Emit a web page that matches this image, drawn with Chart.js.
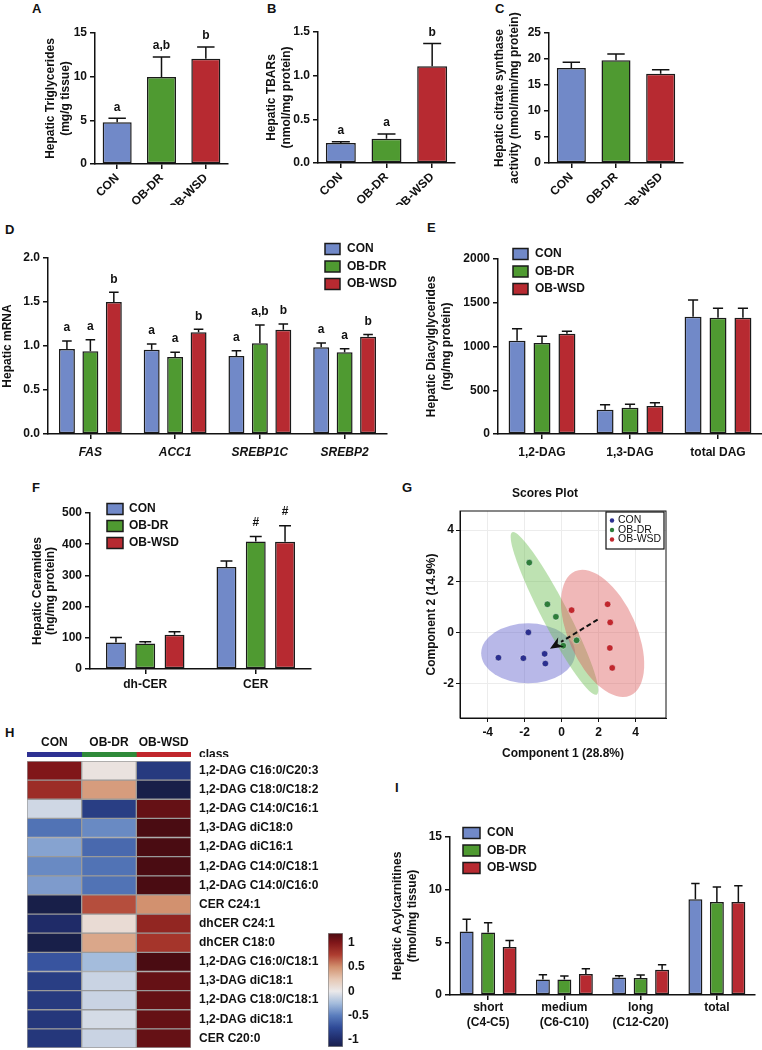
<!DOCTYPE html>
<html>
<head>
<meta charset="utf-8">
<title>Hepatic lipid profile</title>
<script src="https://cdn.jsdelivr.net/npm/chart.js"></script>
<style>
  html, body { margin:0; padding:0; background:#fff; }
  body { position:relative; width:762px; height:1050px; overflow:hidden; }
  canvas { position:absolute; }
  .lbl { position:absolute; font:bold 13px/13px "Liberation Sans", Arial, sans-serif; color:#111; }
</style>
</head>
<body>
<div class="lbl" style="left:32px;top:2px">A</div>
<div class="lbl" style="left:267px;top:2px">B</div>
<div class="lbl" style="left:495px;top:2px">C</div>
<div class="lbl" style="left:5px;top:223px">D</div>
<div class="lbl" style="left:427px;top:221px">E</div>
<div class="lbl" style="left:32px;top:481px">F</div>
<div class="lbl" style="left:402px;top:481px">G</div>
<div class="lbl" style="left:5px;top:726px">H</div>
<div class="lbl" style="left:395px;top:781px">I</div>
<script>
// groupes
const groups = ['CON', 'OB-DR', 'OB-WSD'];
const groupColors = ['#7189c8', '#4f9a31', '#b72a31'];

// A - triglycérides
const tgMean = [4.78, 9.95, 12.05];
const tgSem = [0.46, 2.30, 1.35];
const tgLetters = ['a', 'a,b', 'b'];

// B - TBARs
const tbarsMean = [0.228, 0.277, 1.107];
const tbarsSem = [0.015, 0.055, 0.26];
const tbarsLetters = ['a', 'a', 'b'];

// C - citrate synthase
const csMean = [18.27, 19.74, 17.18];
const csSem = [1.09, 1.22, 0.77];

// D - mRNA
const genes = ['FAS', 'ACC1', 'SREBP1C', 'SREBP2'];
const mrnaCon = [0.966, 0.958, 0.886, 0.985];
const mrnaDr = [0.94, 0.875, 1.03, 0.93];
const mrnaWsd = [1.50, 1.155, 1.186, 1.106];
const mrnaSemCon = [0.09, 0.064, 0.061, 0.049];
const mrnaSemDr = [0.13, 0.055, 0.21, 0.04];
const mrnaSemWsd = [0.11, 0.035, 0.064, 0.026];
const mrnaLetCon = ['a', 'a', 'a', 'a'];
const mrnaLetDr = ['a', 'a', 'a,b', 'a'];
const mrnaLetWsd = ['b', 'b', 'b', 'b'];

// E - DAG
const dagCats = ['1,2-DAG', '1,3-DAG', 'total DAG'];
const dagCon = [1067, 278, 1341];
const dagDr = [1040, 301, 1330];
const dagWsd = [1147, 320, 1330];
const dagSemCon = [137, 57, 190];
const dagSemDr = [76, 38, 106];
const dagSemWsd = [26, 38, 106];

// F - céramides
const cerCats = ['dh-CER', 'CER'];
const cerCon = [85, 327];
const cerDr = [82, 409];
const cerWsd = [110, 408];
const cerSemCon = [16, 19];
const cerSemDr = [5, 16];
const cerSemWsd = [9, 51];
const cerMarkDr = ['', '#'];
const cerMarkWsd = ['', '#'];

// G - scores plot
const conScores = [[-1.8, 0], [-3.42, -0.99], [-2.07, -1.01], [-0.92, -0.84], [-0.88, -1.22]];
const drScores = [[-1.75, 2.73], [-0.77, 1.10], [-0.31, 0.61], [0.81, -0.31], [0.09, -0.52]];
const wsdScores = [[0.54, 0.87], [2.49, 1.10], [2.63, 0.39], [2.61, -0.61], [2.74, -1.39]];
const ellipseCenters = [[-1.81, -0.82], [-0.39, 0.74], [2.22, -0.04]];
const arrowFrom = [1.95, 0.50];
const arrowTo = [-0.63, -0.64];
const scoreXTicks = [-4, -2, 0, 2, 4];
const scoreYTicks = [-2, 0, 2, 4];

// H - heatmap
const lipidNames = ['1,2-DAG C16:0/C20:3', '1,2-DAG C18:0/C18:2', '1,2-DAG C14:0/C16:1', '1,3-DAG diC18:0',
  '1,2-DAG diC16:1', '1,2-DAG C14:0/C18:1', '1,2-DAG C14:0/C16:0', 'CER C24:1', 'dhCER C24:1', 'dhCER C18:0',
  '1,2-DAG C16:0/C18:1', '1,3-DAG diC18:1', '1,2-DAG C18:0/C18:1', '1,2-DAG diC18:1', 'CER C20:0'];
const heatCon = [1.0, 0.85, -0.1, -0.55, -0.35, -0.45, -0.38, -1.15, -1.0, -1.15, -0.7, -0.85, -0.88, -0.9, -0.9];
const heatDr = [0.05, 0.45, -0.85, -0.45, -0.6, -0.55, -0.55, 0.7, 0.1, 0.4, -0.25, -0.12, -0.12, -0.08, -0.12];
const heatWsd = [-0.88, -1.15, 1.1, 1.2, 1.2, 1.2, 1.2, 0.5, 0.9, 0.8, 1.2, 1.1, 1.1, 1.1, 1.1];
const cbarTicks = [1, 0.5, 0, -0.5, -1];
const cbarMin = -1.15, cbarMax = 1.2;

// I - acylcarnitines
const acCats = [['short', '(C4-C5)'], ['medium', '(C6-C10)'], ['long', '(C12-C20)'], 'total'];
const acCon = [6.03, 1.48, 1.67, 9.09];
const acDr = [5.94, 1.48, 1.61, 8.84];
const acWsd = [4.55, 1.99, 2.40, 8.84];
const acSemCon = [1.17, 0.45, 0.16, 1.49];
const acSemDr = [0.91, 0.32, 0.29, 1.42];
const acSemWsd = [0.63, 0.51, 0.47, 1.52];

// styles
const FONT = '"Liberation Sans", Arial, Helvetica, sans-serif';
const heatStops = [[-1.2, '#151b3f'], [-1.0, '#1f2b68'], [-0.75, '#2f4a97'], [-0.5, '#5a7dbd'], [-0.25, '#a4bcdc'],
  [0, '#ebe9ea'], [0.25, '#e6c7b3'], [0.5, '#d2916f'], [0.75, '#ae3d30'], [1.0, '#801619'], [1.2, '#4a0c12']];
const classColors = ['#2e3192', '#2f8a3a', '#c1272d'];
const scoreColors = ['#2b2f8f', '#2e7d3a', '#c1272d'];
const ellipseFill = ['rgba(85,85,200,0.42)', 'rgba(110,190,85,0.45)', 'rgba(220,85,85,0.42)'];
const ellipseShape = [[47, 30, 0], [13, 91.5, -27.5], [34, 68, -24]]; // rx, ry (px), rotation (deg)

Chart.defaults.font.family = FONT;
Chart.defaults.font.size = 12;
Chart.defaults.font.weight = 'bold';
Chart.defaults.color = '#111';
Chart.defaults.animation = false;
Chart.defaults.responsive = false;
Chart.defaults.plugins.legend.display = false;
Chart.defaults.plugins.tooltip.enabled = false;

function canvasAt(left, top, w, h) {
  const c = document.createElement('canvas');
  c.width = w; c.height = h;
  c.style.left = left + 'px'; c.style.top = top + 'px';
  c.style.width = w + 'px'; c.style.height = h + 'px';
  document.body.appendChild(c);
  return c;
}

// barres d'erreur + lettres
const errBars = {
  id: 'errBars',
  afterDatasetsDraw(chart, args, o) {
    const ctx = chart.ctx, y = chart.scales.y;
    chart.data.datasets.forEach((ds, di) => {
      if (!ds.err) return;
      chart.getDatasetMeta(di).data.forEach((bar, i) => {
        const top = y.getPixelForValue(ds.data[i] + ds.err[i]);
        const hw = bar.width * 0.3;
        ctx.save();
        ctx.strokeStyle = '#111'; ctx.lineWidth = 1.5;
        ctx.beginPath();
        ctx.moveTo(bar.x, bar.y); ctx.lineTo(bar.x, top);
        ctx.moveTo(bar.x - hw, top); ctx.lineTo(bar.x + hw, top);
        ctx.stroke();
        if (ds.marks && ds.marks[i]) {
          ctx.fillStyle = '#111';
          ctx.font = 'bold 12px ' + FONT;
          ctx.textAlign = 'center'; ctx.textBaseline = 'middle';
          ctx.fillText(ds.marks[i], bar.x, top - o.gap);
        }
        ctx.restore();
      });
    });
  }
};

// légende à carrés
const boxLegend = {
  id: 'boxLegend',
  afterDraw(chart, args, o) {
    const ctx = chart.ctx;
    ctx.save();
    chart.data.datasets.forEach((ds, i) => {
      const y = o.y - o.oy + i * o.dy, x = o.x - o.ox;
      ctx.fillStyle = ds.backgroundColor;
      ctx.fillRect(x, y - o.h / 2, o.w, o.h);
      ctx.strokeStyle = '#1a1a1a'; ctx.lineWidth = 1.5;
      ctx.strokeRect(x, y - o.h / 2, o.w, o.h);
      ctx.fillStyle = '#111';
      ctx.font = 'bold 12px ' + FONT;
      ctx.textAlign = 'left'; ctx.textBaseline = 'middle';
      ctx.fillText(ds.label, o.tx - o.ox, y);
    });
    ctx.restore();
  }
};

function groupSets(means, sems, marks) {
  return groups.map((g, i) => ({
    label: g, data: means[i], err: sems[i], marks: marks ? marks[i] : null, backgroundColor: groupColors[i]
  }));
}

function barPanel(o) {
  const [L, T, R, B] = o.area;
  const [cl, ct, cr, cb] = o.box;
  const lh = o.lh || 15;
  return new Chart(canvasAt(cl, ct, cr - cl, cb - ct), {
    type: 'bar',
    data: { labels: o.labels, datasets: o.datasets },
    options: {
      layout: { padding: { left: 0, top: T - ct, right: cr - R, bottom: 0 } },
      datasets: { bar: { categoryPercentage: o.cat, barPercentage: o.bar, borderColor: '#1a1a1a', borderWidth: 1.5, borderSkipped: false } },
      plugins: {
        errBars: { gap: o.gap || 11 },
        boxLegend: o.legend ? Object.assign({ ox: cl, oy: ct }, o.legend) : false
      },
      scales: {
        x: {
          grid: { offset: false, drawOnChartArea: false, color: '#111', lineWidth: 1.5, tickLength: 5 },
          border: { color: '#111', width: 1.5 },
          ticks: { autoSkip: false, maxRotation: o.rot || 0, minRotation: o.rot || 0, padding: o.xPad, font: o.xFont || {} },
          afterFit(s) { s.height = cb - B; s.paddingLeft = 0; s.paddingRight = 0; }
        },
        y: {
          min: 0, max: o.yMax,
          ticks: { stepSize: o.yStep, padding: 3, callback: o.fmt },
          grid: { drawOnChartArea: false, color: '#111', lineWidth: 1.5, tickLength: 5 },
          border: { color: '#111', width: 1.5 },
          title: { display: true, text: o.title, padding: 0, font: { size: 12, weight: 'bold', lineHeight: lh / 12 } },
          afterFit(s) { s.width = L - cl; s.paddingTop = 0; s.paddingBottom = 0; }
        }
      }
    },
    plugins: [errBars, boxLegend]
  });
}

const oneDec = v => v.toFixed(1);

// A
barPanel({
  area: [95, 33, 228, 164], box: [43, 16, 233, 205],
  labels: groups, cat: 1, bar: 0.655, rot: 45, xPad: 2,
  datasets: [{ label: '', data: tgMean, err: tgSem, marks: tgLetters, backgroundColor: groupColors }],
  yMax: 15, yStep: 5, title: ['Hepatic Triglycerides', '(mg/g tissue)']
});
// B
barPanel({
  area: [318, 32, 455, 163], box: [264, 16, 460, 205],
  labels: groups, cat: 1, bar: 0.656, rot: 45, xPad: 2,
  datasets: [{ label: '', data: tbarsMean, err: tbarsSem, marks: tbarsLetters, backgroundColor: groupColors }],
  yMax: 1.5, yStep: 0.5, fmt: oneDec, title: ['Hepatic TBARs', '(nmol/mg protein)']
});
// C
barPanel({
  area: [549, 33, 683, 163], box: [492, 0, 690, 205],
  labels: groups, cat: 1, bar: 0.65, rot: 45, xPad: 2,
  datasets: [{ label: '', data: csMean, err: csSem, backgroundColor: groupColors }],
  yMax: 25, yStep: 5, title: ['Hepatic citrate synthase', 'activity (nmol/min/mg protein)']
});
// D
barPanel({
  area: [48, 258, 387, 434], box: [0, 230, 410, 470],
  labels: genes, cat: 0.83, bar: 0.68, xPad: 6, xFont: { style: 'italic', weight: 'bold' }, gap: 13,
  datasets: groupSets([mrnaCon, mrnaDr, mrnaWsd], [mrnaSemCon, mrnaSemDr, mrnaSemWsd], [mrnaLetCon, mrnaLetDr, mrnaLetWsd]),
  yMax: 2, yStep: 0.5, fmt: oneDec, title: 'Hepatic mRNA',
  legend: { x: 325, w: 15, h: 11, y: 249, dy: 17.5, tx: 347 }
});
// E
barPanel({
  area: [498, 259, 762, 434], box: [424, 230, 762, 470],
  labels: dagCats, cat: 0.85, bar: 0.68, xPad: 6.5,
  datasets: groupSets([dagCon, dagDr, dagWsd], [dagSemCon, dagSemDr, dagSemWsd]),
  yMax: 2000, yStep: 500, title: ['Hepatic Diacylglycerides', '(ng/mg protein)'],
  legend: { x: 513, w: 15, h: 11, y: 254, dy: 17.5, tx: 535 }
});
// F
barPanel({
  area: [90, 513, 311, 669], box: [31, 495, 316, 700], lh: 13,
  labels: cerCats, cat: 0.795, bar: 0.68, xPad: 3, gap: 14,
  datasets: groupSets([cerCon, cerDr, cerWsd], [cerSemCon, cerSemDr, cerSemWsd], [null, cerMarkDr, cerMarkWsd]),
  yMax: 500, yStep: 100, title: ['Hepatic Ceramides', '(ng/mg protein)'],
  legend: { x: 107, w: 16, h: 11, y: 509, dy: 17, tx: 129 }
});
// I
barPanel({
  area: [450, 837, 755, 995], box: [390, 820, 762, 1045],
  labels: acCats, cat: 0.845, bar: 0.65, xPad: 0.5, xFont: { lineHeight: 1.25 },
  datasets: groupSets([acCon, acDr, acWsd], [acSemCon, acSemDr, acSemWsd]),
  yMax: 15, yStep: 5, title: ['Hepatic Acylcarnitines', '(fmol/mg tissue)'],
  legend: { x: 463, w: 17, h: 11, y: 833, dy: 17.5, tx: 487 }
});

// G - scores plot
const scoresDeco = {
  id: 'scoresDeco',
  beforeDatasetsDraw(chart) {
    const { ctx, chartArea: a, scales: { x, y } } = chart;
    ctx.save();
    ctx.beginPath(); ctx.rect(a.left, a.top, a.width, a.height); ctx.clip();
    ellipseCenters.forEach(([cx, cy], i) => {
      const [rx, ry, rot] = ellipseShape[i];
      ctx.beginPath();
      ctx.ellipse(x.getPixelForValue(cx), y.getPixelForValue(cy), rx, ry, rot * Math.PI / 180, 0, 2 * Math.PI);
      ctx.fillStyle = ellipseFill[i];
      ctx.fill();
    });
    ctx.restore();
  },
  afterDatasetsDraw(chart) {
    const { ctx, scales: { x, y } } = chart;
    const x0 = x.getPixelForValue(arrowFrom[0]), y0 = y.getPixelForValue(arrowFrom[1]);
    const x1 = x.getPixelForValue(arrowTo[0]), y1 = y.getPixelForValue(arrowTo[1]);
    const ang = Math.atan2(y1 - y0, x1 - x0), head = 13;
    const bx = x1 - head * Math.cos(ang), by = y1 - head * Math.sin(ang);
    ctx.save();
    ctx.strokeStyle = '#111'; ctx.lineWidth = 2; ctx.setLineDash([5, 3]);
    ctx.beginPath(); ctx.moveTo(x0, y0); ctx.lineTo(bx, by); ctx.stroke();
    ctx.setLineDash([]);
    ctx.fillStyle = '#111';
    const nx = -Math.sin(ang) * 5.5, ny = Math.cos(ang) * 5.5;
    const mx = x1 - (head - 4) * Math.cos(ang), my = y1 - (head - 4) * Math.sin(ang);
    ctx.beginPath();
    ctx.moveTo(x1, y1); ctx.lineTo(bx + nx, by + ny); ctx.lineTo(mx, my); ctx.lineTo(bx - nx, by - ny);
    ctx.closePath(); ctx.fill();
    ctx.restore();
  },
  afterDraw(chart) {
    const { ctx, chartArea: a } = chart;
    ctx.save();
    ctx.strokeStyle = '#111'; ctx.lineWidth = 1;
    ctx.strokeRect(a.left, a.top, a.width, a.height);
    // légende
    const lx = 606 - 424, ly = 512 - 486;
    ctx.fillStyle = '#fff';
    ctx.fillRect(lx, ly, 58, 37);
    ctx.lineWidth = 1.2;
    ctx.strokeRect(lx, ly, 58, 37);
    ctx.font = '10.5px ' + FONT;
    ctx.textAlign = 'left'; ctx.textBaseline = 'middle';
    chart.data.datasets.forEach((ds, i) => {
      const yy = ly + 8.5 + i * 9.5;
      ctx.fillStyle = ds.backgroundColor;
      ctx.beginPath(); ctx.arc(lx + 6, yy, 2.2, 0, 2 * Math.PI); ctx.fill();
      ctx.fillStyle = '#111';
      ctx.fillText(ds.label, lx + 12, yy);
    });
    ctx.restore();
  }
};

new Chart(canvasAt(424, 486, 272, 275), {
  type: 'scatter',
  data: {
    datasets: [conScores, drScores, wsdScores].map((pts, i) => ({
      label: groups[i], data: pts.map(([x, y]) => ({ x, y })),
      backgroundColor: scoreColors[i], borderColor: 'rgba(255,255,255,0.6)', borderWidth: 0.8, pointRadius: 3.3
    }))
  },
  options: {
    layout: { padding: { left: 0, top: 0, right: 696 - 666, bottom: 0 } },
    plugins: {
      title: { display: true, text: 'Scores Plot', font: { size: 12, weight: 'bold', lineHeight: 1.25 }, padding: { top: 0, bottom: 10 }, color: '#111' }
    },
    scales: {
      x: {
        min: -5.5, max: 5.65,
        afterBuildTicks(s) { s.ticks = scoreXTicks.map(v => ({ value: v })); },
        grid: { color: '#ececec', tickColor: '#111', tickLength: 4 },
        border: { color: '#111', width: 1 },
        ticks: { padding: 3 },
        title: { display: true, text: 'Component 1 (28.8%)', padding: 0, font: { size: 12, weight: 'bold', lineHeight: 1.25 } },
        afterFit(s) { s.height = 761 - 718; s.paddingLeft = 0; s.paddingRight = 0; }
      },
      y: {
        min: -3.35, max: 4.75,
        afterBuildTicks(s) { s.ticks = scoreYTicks.map(v => ({ value: v })); },
        grid: { color: '#ececec', tickColor: '#111', tickLength: 4 },
        border: { color: '#111', width: 1 },
        ticks: { padding: 2 },
        title: { display: true, text: 'Component 2 (14.9%)', padding: 0, font: { size: 12, weight: 'bold', lineHeight: 1.25 } },
        afterFit(s) { s.width = 460 - 424; s.paddingTop = 0; s.paddingBottom = 0; }
      }
    }
  },
  plugins: [scoresDeco]
});

// H - heatmap
function hexRgb(h) { const n = parseInt(h.slice(1), 16); return [n >> 16 & 255, n >> 8 & 255, n & 255]; }
function heatColor(v) {
  const s = heatStops;
  if (v <= s[0][0]) return s[0][1];
  for (let i = 1; i < s.length; i++) {
    if (v <= s[i][0]) {
      const t = (v - s[i - 1][0]) / (s[i][0] - s[i - 1][0]);
      const a = hexRgb(s[i - 1][1]), b = hexRgb(s[i][1]);
      return 'rgb(' + a.map((c, k) => Math.round(c + (b[k] - c) * t)).join(',') + ')';
    }
  }
  return s[s.length - 1][1];
}

// bande "class" + en-têtes
new Chart(canvasAt(27, 733, 213, 24), {
  type: 'bar',
  data: {
    labels: ['class'],
    datasets: groups.map((g, i) => ({
      label: g, data: [[i, i + 1]], backgroundColor: classColors[i], borderWidth: 0,
      grouped: false, barPercentage: 1, categoryPercentage: 1
    }))
  },
  options: {
    indexAxis: 'y',
    layout: { padding: 0 },
    scales: {
      x: {
        type: 'linear', position: 'top', min: 0, max: 3,
        afterBuildTicks(s) { s.ticks = groups.map((g, i) => ({ value: i + 0.5 })); },
        ticks: { autoSkip: false, padding: 2, callback: (v, i) => groups[i] },
        grid: { display: false, drawTicks: false }, border: { display: false },
        afterFit(s) { s.height = 752 - 733; s.paddingLeft = 0; s.paddingRight = 0; }
      },
      y: {
        position: 'right',
        grid: { display: false, drawTicks: false }, border: { display: false },
        ticks: { padding: 8 },
        afterFit(s) { s.width = 213 - 164; s.paddingTop = 0; s.paddingBottom = 0; }
      }
    }
  }
});

new Chart(canvasAt(27, 761, 303, 289), {
  type: 'bar',
  data: {
    labels: lipidNames,
    datasets: [heatCon, heatDr, heatWsd].map((vals, i) => ({
      label: groups[i], data: vals.map(() => [i, i + 1]), backgroundColor: vals.map(heatColor),
      borderColor: '#9b9b9b', borderWidth: 1, borderSkipped: false,
      grouped: false, barPercentage: 1, categoryPercentage: 1
    }))
  },
  options: {
    indexAxis: 'y',
    layout: { padding: { top: 0, bottom: 2, left: 0, right: 0 } },
    scales: {
      x: { type: 'linear', min: 0, max: 3, display: false },
      y: {
        position: 'right',
        grid: { display: false, drawTicks: false }, border: { display: false },
        ticks: { padding: 8, autoSkip: false },
        afterFit(s) { s.width = 303 - 164; s.paddingTop = 0; s.paddingBottom = 0; }
      }
    }
  }
});

// échelle de couleur
function cbarFill(c) {
  const { chartArea, ctx } = c.chart;
  if (!chartArea) return '#ccc';
  const g = ctx.createLinearGradient(0, chartArea.bottom, 0, chartArea.top);
  g.addColorStop(0, heatColor(cbarMin));
  heatStops.forEach(([v, col]) => {
    const t = (v - cbarMin) / (cbarMax - cbarMin);
    if (t > 0 && t < 1) g.addColorStop(t, col);
  });
  g.addColorStop(1, heatColor(cbarMax));
  return g;
}

new Chart(canvasAt(328, 925, 42, 125), {
  type: 'bar',
  data: {
    labels: ['scale'],
    datasets: [{ data: [[cbarMin, cbarMax]], backgroundColor: cbarFill, borderColor: '#8a8a8a', borderWidth: 1,
      borderSkipped: false, barPercentage: 1, categoryPercentage: 1 }]
  },
  options: {
    layout: { padding: { top: 8, bottom: 3, left: 0, right: 0 } },
    scales: {
      x: { display: false },
      y: {
        position: 'right', min: cbarMin, max: cbarMax,
        afterBuildTicks(s) { s.ticks = cbarTicks.map(v => ({ value: v })); },
        grid: { display: false, drawTicks: false }, border: { display: false },
        ticks: { padding: 5, callback: v => String(v) },
        afterFit(s) { s.width = 42 - 15; s.paddingTop = 0; s.paddingBottom = 0; }
      }
    }
  }
});
</script>
</body>
</html>
